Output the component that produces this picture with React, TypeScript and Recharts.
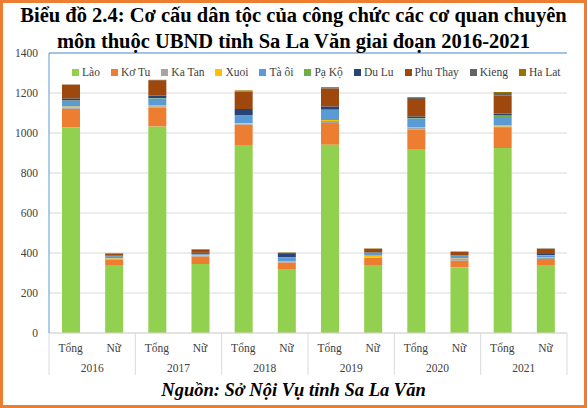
import React from "react";
import {
  Bar,
  BarChart,
  CartesianGrid,
  ReferenceLine,
  XAxis,
  YAxis,
} from "recharts";

const years = ["2016", "2017", "2018", "2019", "2020", "2021"];
const groups = ["Tổng", "Nữ"];
const yTicks = [0, 200, 400, 600, 800, 1000, 1200, 1400];

// order per category: 2016 Tổng, 2016 Nữ, 2017 Tổng, ...
const lao = [1028, 337, 1033, 345, 940, 320, 942, 340, 920, 328, 925, 340];
const koTu = [93, 30, 95, 38, 102, 33, 108, 35, 97, 34, 100, 30];
const kaTan = [7, 6, 6, 5, 5, 3, 10, 2, 8, 10, 8, 6];
const xuoi = [5, 2, 4, 3, 3, 2, 5, 10, 5, 2, 5, 2];
const taOi = [28, 8, 35, 4, 36, 20, 50, 14, 43, 12, 37, 10];
const paKo = [2, 1, 2, 1, 2, 1, 2, 1, 2, 1, 13, 2];
const duLu = [10, 3, 12, 5, 32, 16, 16, 2, 8, 1, 9, 5];
const phuThay = [68, 10, 77, 16, 85, 6, 90, 16, 87, 18, 91, 25];
const kieng = [1, 1, 1, 1, 3, 1, 3, 1, 6, 1, 12, 2];
const haLat = [1, 1, 1, 2, 5, 1, 4, 2, 4, 1, 5, 1];

const series = [
  { key: "lao", name: "Lào", values: lao, color: "#92D050" },
  { key: "koTu", name: "Kơ Tu", values: koTu, color: "#ED7D31" },
  { key: "kaTan", name: "Ka Tan", values: kaTan, color: "#A5A5A5" },
  { key: "xuoi", name: "Xuoi", values: xuoi, color: "#FFC000" },
  { key: "taOi", name: "Tà ôi", values: taOi, color: "#5B9BD5" },
  { key: "paKo", name: "Pạ Kộ", values: paKo, color: "#70AD47" },
  { key: "duLu", name: "Du Lu", values: duLu, color: "#264478" },
  { key: "phuThay", name: "Phu Thay", values: phuThay, color: "#9E480E" },
  { key: "kieng", name: "Kieng", values: kieng, color: "#636363" },
  { key: "haLat", name: "Ha Lat", values: haLat, color: "#997300" },
];

const data = years.flatMap((yr, yi) =>
  groups.map((g, gi) => {
    const i = yi * 2 + gi;
    const row: any = { cat: `${yr}|${g}` };
    series.forEach((s) => (row[s.key] = s.values[i]));
    return row;
  })
);

const FONT = "'Liberation Serif', 'Times New Roman', serif";
const PLOT_LEFT = 49;
const PLOT_RIGHT = 567;
const BAND = (PLOT_RIGHT - PLOT_LEFT) / data.length;

const CatTick = (props: any) => {
  const { x, y, payload, index } = props;
  const [yr, g] = String(payload.value).split("|");
  const i = payload.index ?? index;
  const first = i % 2 === 0;
  return (
    <g>
      <text x={x} y={y + 19} textAnchor="middle" fontSize={11.5} fill="#404040" fontFamily={FONT}>
        {g}
      </text>
      {first && (
        <>
          <line x1={x - BAND / 2} y1={y} x2={x - BAND / 2} y2={y + 42} stroke="#D9D9D9" />
          <text x={x + BAND / 2} y={y + 39} textAnchor="middle" fontSize={11.5} fill="#404040" fontFamily={FONT}>
            {yr}
          </text>
        </>
      )}
      {i === data.length - 1 && (
        <line x1={x + BAND / 2} y1={y} x2={x + BAND / 2} y2={y + 42} stroke="#D9D9D9" />
      )}
    </g>
  );
};

export default function App() {
  return (
    <div
      style={{
        position: "absolute",
        left: 0,
        top: 0,
        width: 587,
        height: 408,
        boxSizing: "border-box",
        border: "3px solid #ED7D31",
        background: "#fff",
        fontFamily: FONT,
        overflow: "hidden",
      }}
    >
      <div style={{ position: "absolute", left: -3, top: -3, width: 587, height: 408 }}>
        <BarChart
          width={587}
          height={408}
          data={data}
          margin={{ top: 53, right: 20, bottom: 1, left: 0 }}
          barSize={18}
        >
          <CartesianGrid vertical={false} stroke="#D9D9D9" />
          <XAxis
            dataKey="cat"
            interval={0}
            height={74}
            tickLine={false}
            tickSize={0}
            tickMargin={0}
            axisLine={{ stroke: "#D9D9D9" }}
            tick={<CatTick />}
          />
          <YAxis
            domain={[0, 1400]}
            ticks={yTicks}
            width={49}
            tickLine={false}
            tickMargin={5}
            axisLine={{ stroke: "#5B9BD5" }}
            tick={{ fontSize: 11.5, fill: "#404040", fontFamily: FONT }}
          />
          <YAxis
            yAxisId="r"
            orientation="right"
            domain={[0, 1400]}
            width={0}
            tick={false}
            tickLine={false}
            axisLine={{ stroke: "#5B9BD5" }}
          />
          <ReferenceLine y={1400} stroke="#5B9BD5" />
          {series.map((s) => (
            <Bar
              key={s.key}
              dataKey={s.key}
              name={s.name}
              stackId="a"
              fill={s.color}
              isAnimationActive={false}
            />
          ))}
        </BarChart>
      </div>

      <div
        style={{
          position: "absolute",
          left: -3,
          top: -1,
          width: 587,
          textAlign: "center",
          fontWeight: "bold",
          fontSize: 20.5,
          lineHeight: "26px",
          color: "#000",
        }}
      >
        Biểu đồ 2.4: Cơ cấu dân tộc của công chức các cơ quan chuyên
        <br />
        môn thuộc UBND tỉnh Sa La Văn giai đoạn 2016-2021
      </div>

      <div
        style={{
          position: "absolute",
          left: PLOT_LEFT + 20,
          top: 63,
          width: 500,
          display: "flex",
          justifyContent: "flex-start",
          gap: 11,
          fontSize: 11.5,
          color: "#404040",
          whiteSpace: "nowrap",
        }}
      >
        {series.map((s) => (
          <span key={s.key} style={{ display: "flex", alignItems: "center" }}>
            <span style={{ width: 7, height: 7, background: s.color, marginRight: 3, display: "inline-block" }} />
            {s.name}
          </span>
        ))}
      </div>

      <div
        style={{
          position: "absolute",
          left: -3,
          top: 377,
          width: 587,
          textAlign: "center",
          fontWeight: "bold",
          fontStyle: "italic",
          fontSize: 18.5,
          color: "#000",
        }}
      >
        Nguồn: Sở Nội Vụ tỉnh Sa La Văn
      </div>
    </div>
  );
}
